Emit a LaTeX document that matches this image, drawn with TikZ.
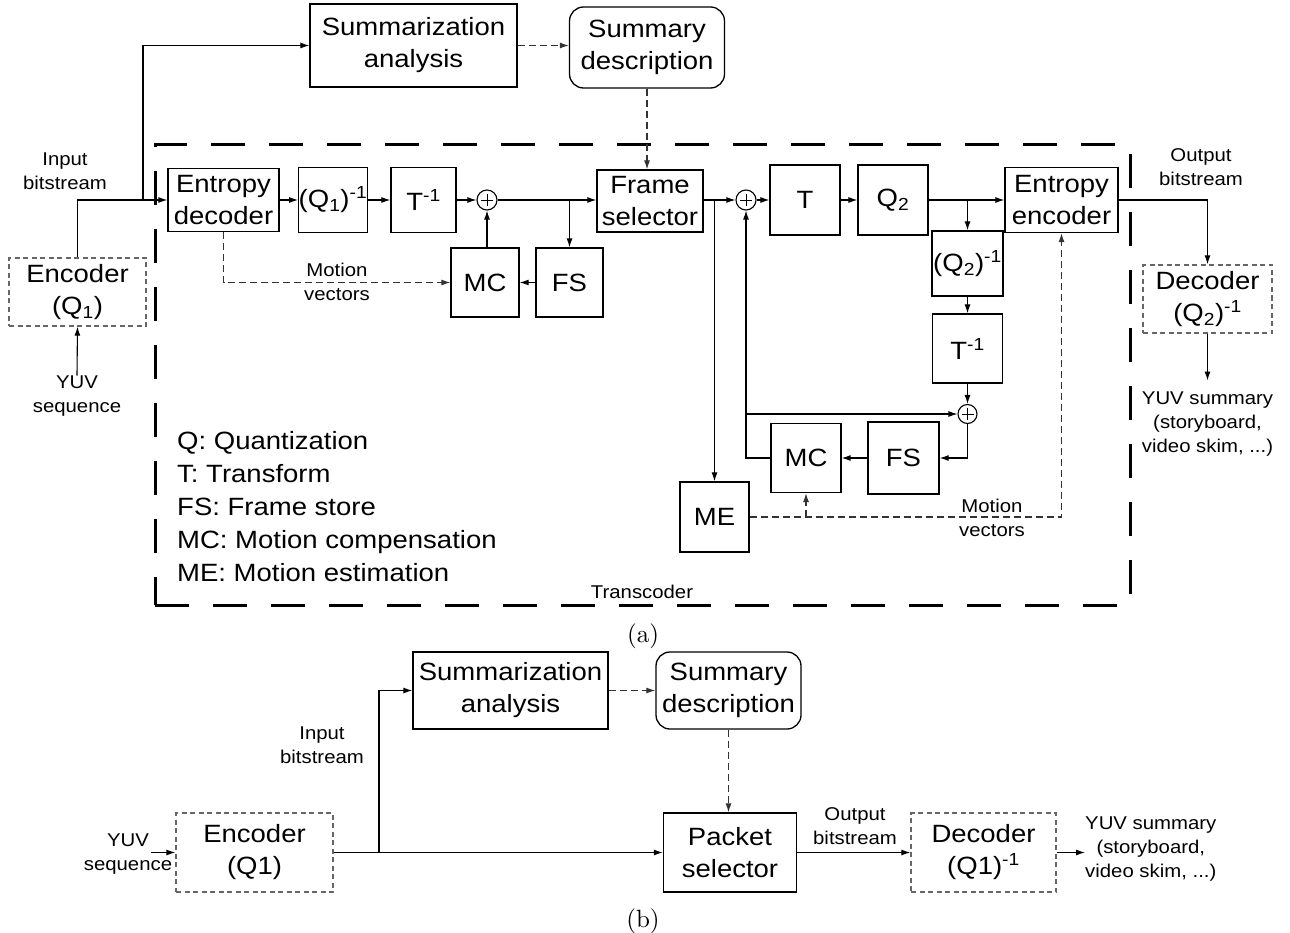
\documentclass[tikz,border=0pt]{standalone}
\usepackage{fontspec}
\newfontfamily\dsf{Liberation Sans}[FakeStretch=1.1]
\usetikzlibrary{arrows.meta}
\newcommand\bigtxt{\dsf\fontsize{25}{32}\selectfont}
\newcommand\smalltxt{\dsf\fontsize{18.5}{24}\selectfont}
\newcommand\legtxt{\dsf\fontsize{25}{33.2}\selectfont}

\tikzset{
  blk/.style={draw, line width=1.3pt, inner sep=0pt, align=center, font=\bigtxt},
  dblk/.style={blk, draw=black!60, dash pattern=on 5pt off 3.5pt},
  rblk/.style={blk, rounded corners=14pt},
  sumc/.style={circle, draw, line width=1.1pt, minimum size=20pt, inner sep=0pt,
    path picture={\draw[line width=0.9pt]
      ([xshift=-6pt]path picture bounding box.center) -- ([xshift=6pt]path picture bounding box.center)
      ([yshift=-6pt]path picture bounding box.center) -- ([yshift=6pt]path picture bounding box.center);}},
  lbl/.style={align=center, font=\smalltxt, inner sep=0pt},
  flow/.style={line width=1.1pt, -{Latex[length=9pt,width=6pt]}},
  dflow/.style={line width=1.1pt, draw=black!80, dash pattern=on 7pt off 4pt, -{Latex[length=9pt,width=6pt]}},
  tcframe/.style={draw, line width=3pt, dash pattern=on 34pt off 24pt, inner sep=0pt},
  captxt/.style={font=\fontsize{10}{12}\selectfont, scale=2.5, inner sep=0pt},
}

\begin{document}
\begin{tikzpicture}[x=1pt,y=-1pt]
\useasboundingbox (0,0) rectangle (1290,933);

% ================= (a) transcoder-based summarization =================
\node[blk, minimum width=207pt, minimum height=83pt] (sa) at (413.5,45.5) {Summarization\\analysis};
\node[rblk, minimum width=155pt, minimum height=81pt] (sd) at (647,47.5) {Summary\\description};
\node[tcframe, minimum width=975pt, minimum height=460pt] (tc) at (642.5,375) {};

\node[dblk, minimum width=137pt, minimum height=68pt] (enc) at (77.5,292) {Encoder\\(Q\textsubscript{1})};
\node[lbl] (yuv) at (77,396) {YUV\\sequence};
\node[lbl] (inb) at (65,171) {Input\\bitstream};

\node[blk, minimum width=111pt, minimum height=63pt] (ed) at (223.5,200) {Entropy\\decoder};
\node[blk, minimum width=68pt, minimum height=65pt] (qi1) at (333,200) {(Q\textsubscript{1})\textsuperscript{-1}};
\node[blk, minimum width=65pt, minimum height=65pt] (ti1) at (423.5,200) {T\textsuperscript{-1}};
\node[sumc] (s1) at (487,200) {};
\node[blk, minimum width=68pt, minimum height=69pt] (mc1) at (485,282.5) {MC};
\node[blk, minimum width=67pt, minimum height=69pt] (fs1) at (569.5,282.5) {FS};
\node[lbl] (mv1) at (337,282) {Motion\\vectors};
\node[blk, minimum width=106pt, minimum height=62pt] (fsel) at (650,201) {Frame\\selector};

\node[sumc] (s2) at (746,200) {};
\node[blk, minimum width=70pt, minimum height=70pt] (tt) at (805,200) {T};
\node[blk, minimum width=70pt, minimum height=70pt] (q2) at (893,200) {Q\textsubscript{2}};
\node[blk, minimum width=113pt, minimum height=65pt] (ee) at (1061.5,200) {Entropy\\encoder};
\node[blk, minimum width=71pt, minimum height=65pt] (qi2) at (967.5,263.5) {(Q\textsubscript{2})\textsuperscript{-1}};
\node[blk, minimum width=70pt, minimum height=69pt] (ti2) at (967.5,348.5) {T\textsuperscript{-1}};
\node[sumc, minimum size=19pt] (s3) at (967.5,414) {};
\node[blk, minimum width=70pt, minimum height=69pt] (mc2) at (806,458) {MC};
\node[blk, minimum width=71pt, minimum height=72pt] (fs2) at (903.5,458) {FS};
\node[blk, minimum width=69pt, minimum height=70pt] (me) at (714.5,517) {ME};
\node[lbl] (mv2) at (992,518) {Motion\\vectors};

\node[lbl] (outb) at (1201,167) {Output\\bitstream};
\node[dblk, minimum width=129pt, minimum height=68pt] (dec) at (1207.5,299) {Decoder\\(Q\textsubscript{2})\textsuperscript{-1}};
\node[lbl] (yuvs) at (1207.5,424) {YUV summary\\(storyboard,\\video skim, ...)};

\node[font=\legtxt, align=left, anchor=west, inner sep=0pt] (leg) at (177,506.5)
  {Q: Quantization\\T: Transform\\FS: Frame store\\MC: Motion compensation\\ME: Motion estimation};
\node[lbl] (tcl) at (642,592) {Transcoder};
\node[captxt] (capa) at (643,636) {(a)};

% connectors (a)
\coordinate (j1) at (143,200);
\draw[flow] (yuv.north) -- (enc.south);
\draw[flow] (enc.north) |- (ed.west);
\draw[flow] (j1) |- (sa.west);
\draw[dflow] (sa.east) -- (sa.east -| sd.west);
\draw[dflow] (sd.south) -- (sd.south |- fsel.north);
\draw[flow] (ed.east) -- (qi1.west);
\draw[flow] (qi1.east) -- (ti1.west);
\draw[flow] (ti1.east) -- (s1.west);
\draw[flow] (s1.east) -- (s1.east -| fsel.west);
\draw[flow] (fs1.north |- s1.east) -- (fs1.north);
\draw[flow] (fs1.west) -- (mc1.east);
\draw[flow] (s1.south |- mc1.north) -- (s1.south);
\draw[dflow] (ed.south) |- (mc1.west);

\draw[flow] (fsel.east |- s2.west) -- (s2.west);
\draw[flow] (me.north |- s2.west) -- (me.north);
\draw[flow] (s2.east) -- (tt.west);
\draw[flow] (tt.east) -- (q2.west);
\draw[flow] (q2.east) -- (ee.west);
\draw[flow] (qi2.north |- q2.east) -- (qi2.north);
\draw[flow] (qi2.south) -- (ti2.north);
\draw[flow] (ti2.south) -- (s3.north);
\draw[flow] (s3.south) |- (fs2.east);
\draw[flow] (fs2.west) -- (mc2.east);
\draw[flow] (mc2.west) -| (s2.south);
\draw[flow] (s2.south |- s3.west) -- (s3.west);
\draw[dflow] (me.east) -| (ee.south);
\draw[dflow] (mc2.south |- me.east) -- (mc2.south);
\draw[flow] (ee.east) -| (dec.north);
\draw[flow] (dec.south) -- ([yshift=11pt]yuvs.north);

% ================= (b) packet-selection summarization =================
\node[blk, minimum width=195pt, minimum height=77pt] (sa2) at (510.5,690.5) {Summarization\\analysis};
\node[rblk, minimum width=145pt, minimum height=77pt] (sd2) at (728.5,690.5) {Summary\\description};
\node[dblk, minimum width=157pt, minimum height=79pt] (enc2) at (254.5,852.5) {Encoder\\(Q1)};
\node[blk, minimum width=133pt, minimum height=79pt] (ps) at (730,852.5) {Packet\\selector};
\node[dblk, minimum width=145pt, minimum height=79pt] (dec2) at (983.5,852.5) {Decoder\\(Q1)\textsuperscript{-1}};
\node[lbl] (yuv2) at (128,854) {YUV\\sequence};
\node[lbl] (inb2) at (322,745) {Input\\bitstream};
\node[lbl] (outb2) at (855,826) {Output\\bitstream};
\node[lbl, anchor=west] (yuvs2) at (1085,849) {YUV summary\\(storyboard,\\video skim, ...)};
\node[captxt] (capb) at (643,921) {(b)};

% connectors (b)
\coordinate (yin) at (151,852.5);
\coordinate (j2) at (379,852.5);
\draw[flow] (yin) -- (enc2.west);
\draw[flow] (enc2.east) -- (ps.west);
\draw[flow] (j2) |- (sa2.west);
\draw[dflow] (sa2.east) -- (sd2.west);
\draw[dflow] (sd2.south) -- (sd2.south |- ps.north);
\draw[flow] (ps.east) -- (dec2.west);
\draw[flow] (dec2.east) -- (dec2.east -| yuvs2.west);
\end{tikzpicture}
\end{document}
